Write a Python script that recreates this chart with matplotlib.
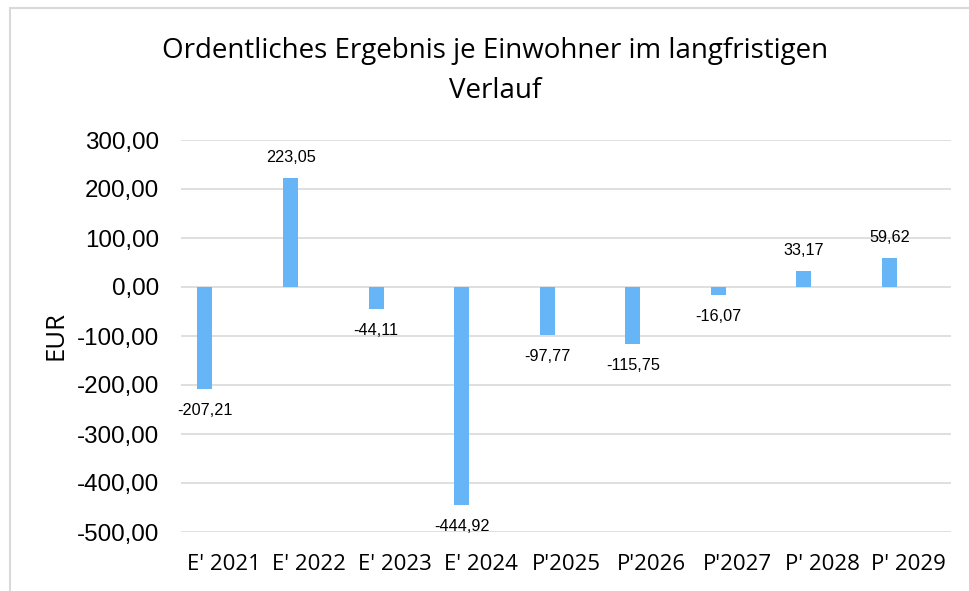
import matplotlib
matplotlib.use("Agg")
import matplotlib.pyplot as plt
from matplotlib.patches import Rectangle
import numpy as np

# Chart data
categories = ["E' 2021", "E' 2022", "E' 2023", "E' 2024", "P'2025",
              "P'2026", "P'2027", "P' 2028", "P' 2029"]
values = [-207.21, 223.05, -44.11, -444.92, -97.77, -115.75, -16.07, 33.17, 59.62]
y_ticks = [300, 200, 100, 0, -100, -200, -300, -400, -500]

bar_color = "#66B5F6"
grid_color = "#D9D9D9"


def de_fmt(v):
    # German number format: comma as decimal separator
    return f"{v:.2f}".replace(".", ",")


fig = plt.figure(figsize=(9.69, 5.91), dpi=100)
ax = fig.add_axes([181 / 969, 1 - 532 / 591, 770 / 969, 392 / 591])

x = np.arange(len(categories))
bar_x = x - 0.22  # bars sit left of the category centre (clustered slot)
ax.bar(bar_x, values, width=0.175, color=bar_color, zorder=3)

ax.set_xlim(-0.5, len(categories) - 0.5)
ax.set_ylim(-500, 300)
ax.set_yticks(y_ticks)
ax.set_yticklabels([de_fmt(t) for t in y_ticks], family="Liberation Sans", fontsize=17.4)
ax.set_xticks(x)
ax.set_xticklabels(categories, family="Open Sans", fontsize=16)
ax.tick_params(axis="both", length=0)
ax.tick_params(axis="y", pad=16)
ax.tick_params(axis="x", pad=16)

ax.grid(axis="y", color=grid_color, linewidth=1.2, zorder=0)
for s in ax.spines.values():
    s.set_visible(False)

# Data labels above / below each bar
for xi, v in zip(bar_x, values):
    off = 14.5 if v >= 0 else -15.5
    ax.annotate(de_fmt(v), (xi, v), xytext=(0, off), textcoords="offset points",
                ha="center", va="center", family="Liberation Sans", fontsize=11.7)

fig.text(56 / 969, 1 - 336 / 591, "EUR", rotation=90, ha="center", va="center",
         family="Open Sans", fontsize=18.5)

fig.text(495 / 969, 1 - 71 / 591,
         "Ordentliches Ergebnis je Einwohner im langfristigen\nVerlauf",
         ha="center", va="center", family="Open Sans", fontsize=20, linespacing=1.55)

# light chart-area border
fig.patches.append(Rectangle((10 / 969, -0.1), 1.2, 1.1 - 8 / 591,
                             transform=fig.transFigure, fill=False,
                             edgecolor=grid_color, linewidth=1.5))

fig.savefig("out.png", dpi=100)
